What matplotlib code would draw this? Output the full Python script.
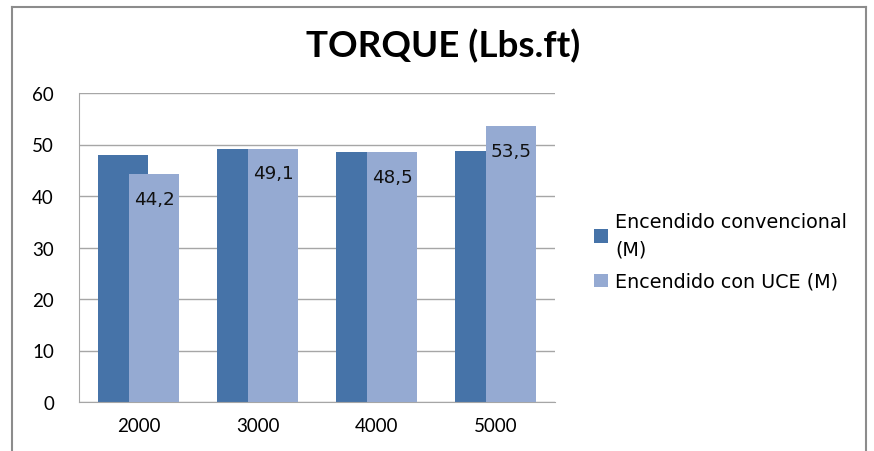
import numpy as np
import matplotlib.pyplot as plt
from matplotlib.lines import Line2D

# datos del gráfico
rpm = ['2000', '3000', '4000', '5000']
convencional = [48.0, 49.1, 48.5, 48.7]
con_uce = [44.2, 49.1, 48.5, 53.5]
etiquetas_uce = ['44,2', '49,1', '48,5', '53,5']

c_dark = '#4673A8'
c_light = '#95AAD2'

fig = plt.figure(figsize=(8.74, 4.52), dpi=100)
ax = fig.add_axes([79 / 874, 1 - 403 / 452, 476 / 874, 309 / 452])

x = np.arange(len(rpm))
w = 0.42
off = 0.13
ax.bar(x - off, convencional, w, color=c_dark, label='Encendido convencional\n(M)', zorder=2)
bars = ax.bar(x + off, con_uce, w, color=c_light, label='Encendido con UCE (M)', zorder=3)

for b, t in zip(bars, etiquetas_uce):
    ax.annotate(t, (b.get_x() + b.get_width() / 2, b.get_height()),
                xytext=(0, -11), textcoords='offset points', ha='center', va='top',
                fontsize=13.2, family='DejaVu Sans', color='#111111', zorder=4)

ax.set_xlim(-0.5, 3.5)
ax.set_ylim(0, 60)
ax.set_yticks(range(0, 61, 10))
ax.set_xticks(x)
ax.set_xticklabels(rpm)
ax.tick_params(length=0, labelsize=13.5, pad=11)
ax.tick_params(axis='y', pad=18)
for lab in ax.get_xticklabels() + ax.get_yticklabels():
    lab.set_family('Lato')
ax.grid(axis='y', color='#A6A6A6', linewidth=1, zorder=0)
for s in ['top', 'right']:
    ax.spines[s].set_visible(False)
ax.spines['left'].set_color('#A6A6A6')
ax.spines['bottom'].set_color('#A6A6A6')

fig.text(443 / 874, 1 - 46 / 452, 'TORQUE (Lbs.ft)', ha='center', va='center',
         fontsize=26.5, fontweight='bold', family='Lato')

leg = fig.legend(loc='upper left', bbox_to_anchor=(577 / 874, 1 - 196 / 452),
                 frameon=False, prop={'family': 'DejaVu Sans', 'size': 13.8},
                 handlelength=0.7, handleheight=0.7, handletextpad=0.4,
                 labelspacing=0.7)
for t in leg.get_texts():
    t.set_linespacing(1.55)

# marco exterior
bc = '#8C8C8C'
fig.add_artist(Line2D([12 / 874, 12 / 874], [0, 1 - 8 / 452], transform=fig.transFigure, color=bc, lw=1.5))
fig.add_artist(Line2D([12 / 874, 866 / 874], [1 - 8 / 452, 1 - 8 / 452], transform=fig.transFigure, color=bc, lw=1.5))
fig.add_artist(Line2D([866 / 874, 866 / 874], [0, 1 - 8 / 452], transform=fig.transFigure, color=bc, lw=1.5))

plt.savefig('out.png', dpi=100)
